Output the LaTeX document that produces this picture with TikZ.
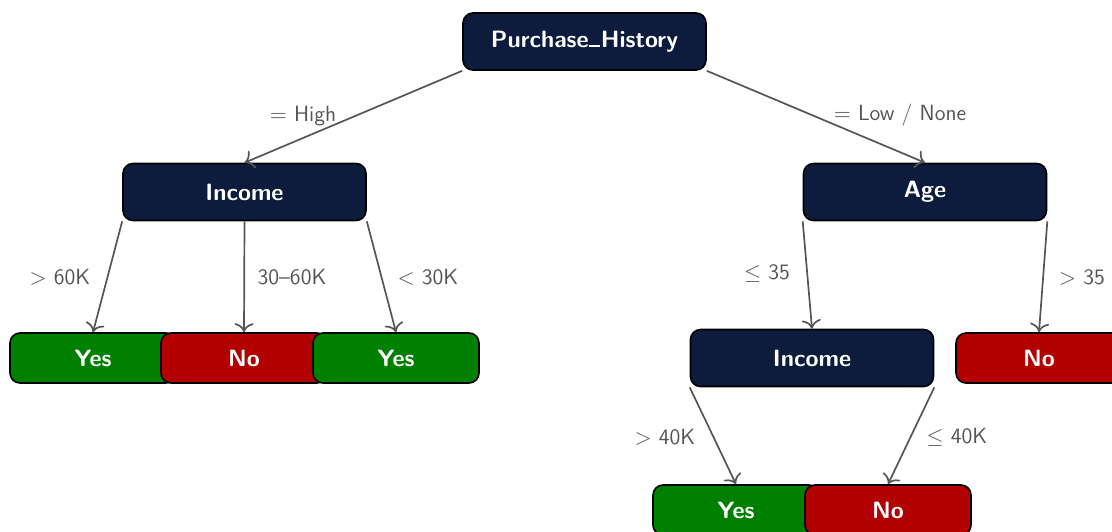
\documentclass[tikz,border=0pt]{standalone}
\usetikzlibrary{arrows.meta}
\definecolor{navy}{HTML}{0D1B3D}
\definecolor{leafgreen}{HTML}{008000}
\definecolor{leafred}{HTML}{B30000}
\definecolor{edgegray}{HTML}{555555}
% short baseline underscore for attribute names
\newcommand{\attrsep}{\kern0.3pt\rule{5.5pt}{0.95pt}\kern0.3pt}
\begin{document}
\begin{tikzpicture}[x=0.5pt,y=-0.5pt,
  box/.style={draw=black, line width=0.8pt, rounded corners=5pt, text=white,
    font=\sffamily\bfseries\fontsize{11.8}{13}\selectfont, inner sep=0pt, align=center},
  split/.style={box, fill=navy, minimum width=121.5pt, minimum height=28.5pt},
  leaf/.style={box, minimum width=83pt, minimum height=25pt},
  yes/.style={leaf, fill=leafgreen},
  no/.style={leaf, fill=leafred},
  edge/.style={draw=edgegray, line width=0.85pt, -{To[length=4.5pt,width=9.5pt]}},
  lbl/.style={text=edgegray, font=\sffamily\fontsize{11}{13}\selectfont, inner sep=0pt}]
  \useasboundingbox (0,0) rectangle (1112,531);

  % decision nodes
  \node[split] (root) at (584.5,41.5) {Purchase\attrsep History};
  \node[split] (inc) at (244.5,192) {Income};
  \node[split] (age) at (925,192) {Age};
  \node[split] (inc2) at (812,358) {Income};

  % leaves, drawn left to right so each one overlaps the previous
  \node[yes] (l1) at (93,358) {Yes};
  \node[no]  (l2) at (244,358) {No};
  \node[yes] (l3) at (396,358) {Yes};
  \node[no]  (l4) at (1039,358) {No};
  \node[yes] (l5) at (736,510) {Yes};
  \node[no]  (l6) at (888,510) {No};

  % branches
  \draw[edge] (root.south west) -- (inc.north);
  \draw[edge] (root.south east) -- (age.north);
  \draw[edge] (inc.south west) -- (l1.north);
  \draw[edge] (inc.south) -- (l2.north);
  \draw[edge] (inc.south east) -- (l3.north);
  \draw[edge] (age.south west) -- (inc2.north);
  \draw[edge] (age.south east) -- (l4.north);
  \draw[edge] (inc2.south west) -- (l5.north);
  \draw[edge] (inc2.south east) -- (l6.north);

  % branch conditions
  \node[lbl] (c1) at (303,116) {$=$ High};
  \node[lbl] (c2) at (900,115) {$=$ Low / None};
  \node[lbl] (c3) at (60,277) {$>$ 60K};
  \node[lbl] (c4) at (292,277) {30--60K};
  \node[lbl] (c5) at (428,277) {$<$ 30K};
  \node[lbl] (c6) at (767,274) {$\leq$ 35};
  \node[lbl] (c7) at (1082,277) {$>$ 35};
  \node[lbl] (c8) at (665,437) {$>$ 40K};
  \node[lbl] (c9) at (957,437) {$\leq$ 40K};
\end{tikzpicture}
\end{document}
